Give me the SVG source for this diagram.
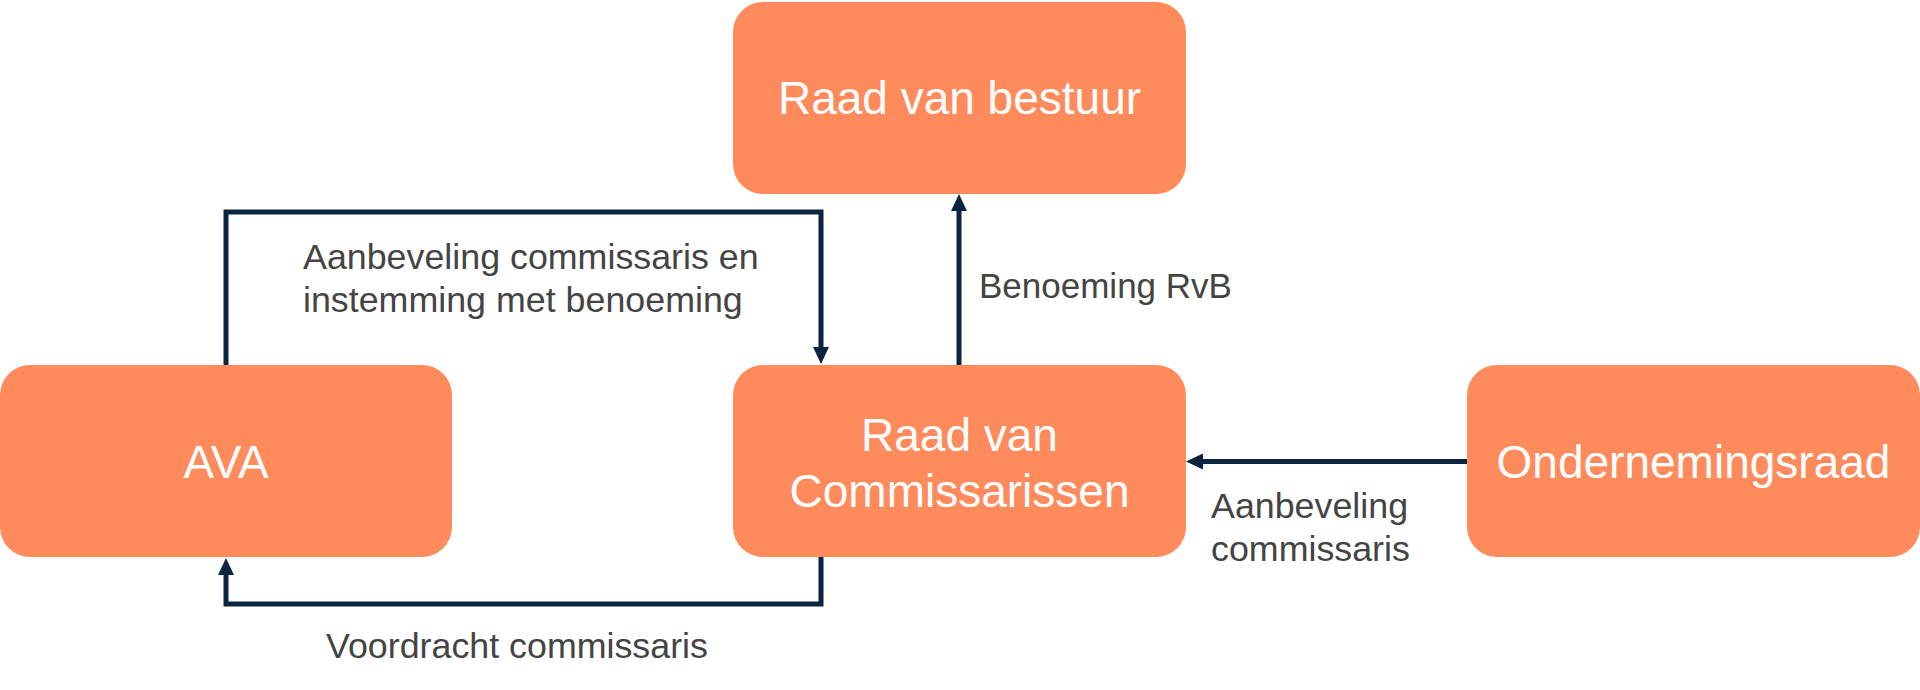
<svg xmlns="http://www.w3.org/2000/svg" width="1920" height="690" viewBox="0 0 1920 690">
<style>
.box{fill:#FF8B5D;}
.nt{font-family:"Liberation Sans",Arial,sans-serif;font-size:46px;fill:#FFFFFF;text-anchor:middle;}
.lbl{font-family:"Liberation Sans",Arial,sans-serif;font-size:35.8px;fill:#444444;}
.conn{fill:none;stroke:#0B2442;stroke-width:5;marker-end:url(#ah);}
</style>
<defs>
<marker id="ah" markerUnits="userSpaceOnUse" markerWidth="18" markerHeight="16" refX="0" refY="8" orient="auto" viewBox="0 0 18 16">
<path d="M0,0 L17,8 L0,16 z" fill="#0B2442"/>
</marker>
</defs>
<rect width="1920" height="690" fill="#FFFFFF"/>
<g id="connectors">
<path class="conn" d="M226,366 V212 H821 V347"/>
<path class="conn" d="M821,557 V604 H226 V575"/>
<path class="conn" d="M959,365 V211"/>
<path class="conn" d="M1467,461.5 H1203"/>
</g>
<g id="raad-van-bestuur">
<rect class="box" x="733" y="2" width="453" height="192" rx="30"/>
<text class="nt" x="959.5" y="114">Raad van bestuur</text>
</g>
<g id="ava">
<rect class="box" x="0" y="365" width="452" height="192" rx="30"/>
<text class="nt" x="226" y="478">AVA</text>
</g>
<g id="raad-van-commissarissen">
<rect class="box" x="733" y="365" width="453" height="192" rx="30"/>
<text class="nt" x="959.5" y="451">Raad van</text>
<text class="nt" x="959.5" y="507">Commissarissen</text>
</g>
<g id="ondernemingsraad">
<rect class="box" x="1467" y="365" width="453" height="192" rx="30"/>
<text class="nt" x="1693.5" y="478">Ondernemingsraad</text>
</g>
<g id="labels">
<text class="lbl" x="303" y="269">Aanbeveling commissaris en</text>
<text class="lbl" x="303" y="312">instemming met benoeming</text>
<text class="lbl" x="979" y="298" style="font-size:35px">Benoeming RvB</text>
<text class="lbl" x="1211" y="518">Aanbeveling</text>
<text class="lbl" x="1211" y="561">commissaris</text>
<text class="lbl" x="326" y="658">Voordracht commissaris</text>
</g>
</svg>
